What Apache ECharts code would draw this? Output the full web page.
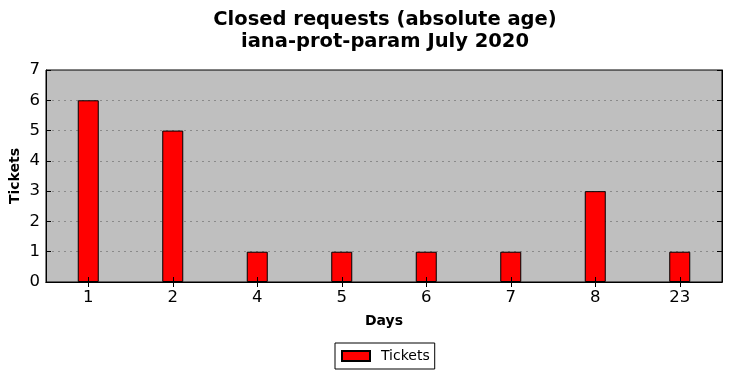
<!DOCTYPE html>
<html><head><meta charset="utf-8">
<script src="https://cdn.jsdelivr.net/npm/echarts@6/dist/echarts.min.js"></script>
<style>html,body{margin:0;padding:0;background:#fff}#c{width:732px;height:378px}</style>
</head><body><div id="c"></div>
<script>
const categories = ['1','2','4','5','6','7','8','23'];
const tickets = [6,5,1,1,1,1,3,1];
const yTicks = [0,1,2,3,4,5,6,7];
const titleLines = ['Closed requests (absolute age)','iana-prot-param July 2020'];

const FONT = 'DejaVu Sans';
const chart = echarts.init(document.getElementById('c'), null, {renderer:'canvas'});
const axLine = {show:true, lineStyle:{color:'#000', width:1}};
chart.setOption({
  animation:false,
  backgroundColor:'#fff',
  graphic:[
    {type:'text', x:385, y:10, z:10, style:{text:titleLines[0], font:'bold 19.5px "DejaVu Sans"', fill:'#000', textAlign:'center'}},
    {type:'text', x:385, y:32, z:10, style:{text:titleLines[1], font:'bold 19.5px "DejaVu Sans"', fill:'#000', textAlign:'center'}}
  ],
  grid:{left:46, right:10, top:70, bottom:96, show:true, backgroundColor:'#bfbfbf', borderColor:'#000', borderWidth:1, containLabel:false, outerBoundsMode:'none'},
  legend:{
    data:['Tickets'], left:335, top:343, orient:'horizontal',
    borderColor:'#000', borderWidth:1, borderRadius:0, padding:[6,5,6,6],
    itemWidth:28, itemHeight:10, itemGap:5,
    textStyle:{fontFamily:FONT, fontSize:14, color:'#000', padding:[0,0,0,6]},
    icon:'rect'
  },
  xAxis:[
    {type:'category', data:categories, position:'bottom', z:5,
     name:'Days', nameLocation:'middle', nameGap:32,
     nameTextStyle:{fontFamily:FONT, fontWeight:'bold', fontSize:14, color:'#000'},
     axisLine:axLine, axisTick:{show:true, inside:true, alignWithLabel:true, length:5, lineStyle:{color:'#000'}},
     axisLabel:{fontFamily:FONT, fontSize:16.5, color:'#000', margin:7},
     splitLine:{show:false}},
    {type:'category', data:categories, position:'top', z:5,
     axisLine:axLine, axisTick:{show:true, inside:true, alignWithLabel:true, length:5, lineStyle:{color:'#000'}},
     axisLabel:{show:false}, splitLine:{show:false}}
  ],
  yAxis:[
    {type:'value', min:yTicks[0], max:yTicks[yTicks.length-1], interval:1, position:'left', z:1,
     name:'Tickets', nameLocation:'middle', nameGap:24, nameRotate:90, nameMoveOverlap:false,
     nameTextStyle:{fontFamily:FONT, fontWeight:'bold', fontSize:14, color:'#000'},
     axisLine:axLine, axisTick:{show:true, inside:true, length:5, lineStyle:{color:'#000'}},
     axisLabel:{fontFamily:FONT, fontSize:16.5, color:'#000', margin:6},
     splitLine:{show:true, showMaxLine:false, showMinLine:false, lineStyle:{color:'#8a8a8a', type:[2,4], width:1}}},
    {type:'value', min:yTicks[0], max:yTicks[yTicks.length-1], interval:1, position:'right', z:5,
     axisLine:axLine, axisTick:{show:true, inside:true, length:5, lineStyle:{color:'#000'}},
     axisLabel:{show:false}, splitLine:{show:false}}
  ],
  series:[{
    name:'Tickets', type:'bar', data:tickets, barWidth:21,
    itemStyle:{color:'#ff0000', borderColor:'#000', borderWidth:1}
  }]
});
</script></body></html>
